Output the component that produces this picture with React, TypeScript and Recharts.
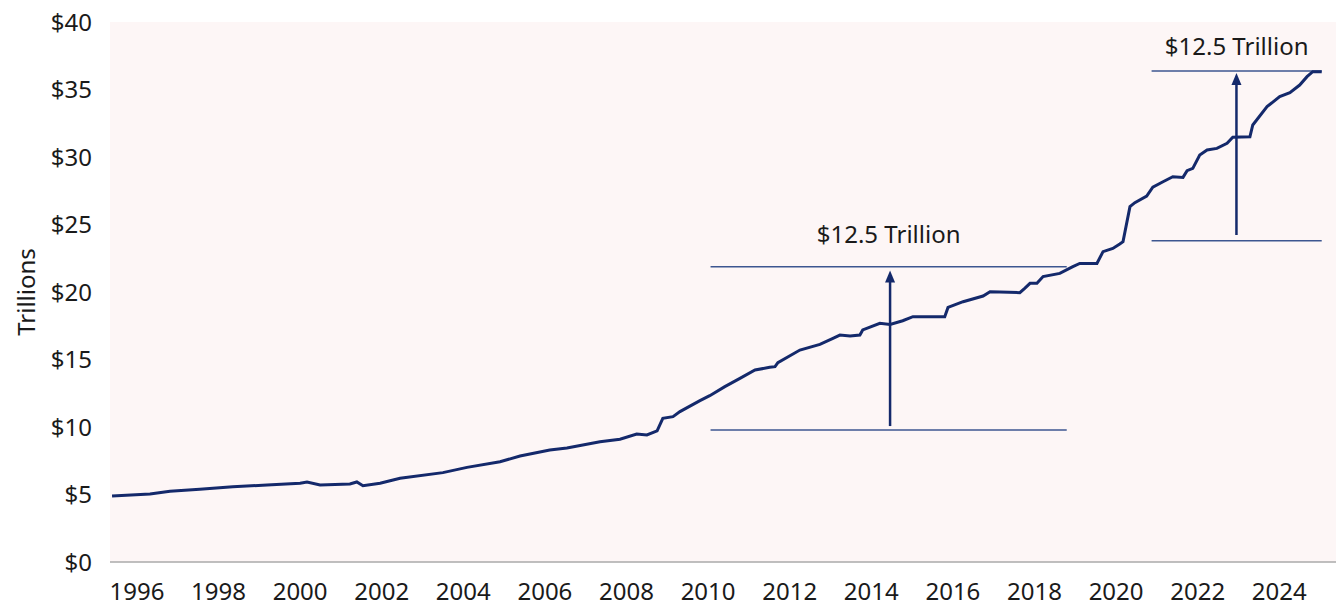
import React from 'react';
import {
  LineChart,
  Line,
  XAxis,
  YAxis,
  CartesianGrid,
  ReferenceLine,
} from 'recharts';

// decimal years and debt outstanding, in trillions of dollars
const years = [
  1995.39, 1996.32, 1996.81, 1997.54, 1998.35, 1999.19, 2000.0, 2000.17, 2000.49, 2001.22,
  2001.39, 2001.54, 2001.96, 2002.45, 2003.5, 2004.09, 2004.9, 2005.39, 2006.12, 2006.54,
  2007.35, 2007.84, 2008.25, 2008.5, 2008.75, 2008.89, 2009.14, 2009.31, 2009.8, 2010.04,
  2010.41, 2010.78, 2011.15, 2011.51, 2011.64, 2011.71, 2012.25, 2012.74, 2013.06, 2013.23,
  2013.48, 2013.72, 2013.79, 2014.21, 2014.46, 2014.77, 2015.02, 2015.8, 2015.88, 2016.25,
  2016.74, 2016.91, 2017.15, 2017.64, 2017.76, 2017.89, 2018.06, 2018.21, 2018.62, 2018.94,
  2019.11, 2019.53, 2019.68, 2019.92, 2020.09, 2020.17, 2020.34, 2020.46, 2020.75, 2020.9,
  2021.15, 2021.39, 2021.64, 2021.74, 2021.88, 2022.05, 2022.23, 2022.47, 2022.72, 2022.86,
  2023.28, 2023.35, 2023.7, 2024.01, 2024.26, 2024.5, 2024.68, 2024.82, 2025.04,
];

const debt = [
  4.89, 5.04, 5.24, 5.38, 5.58, 5.7, 5.83, 5.93, 5.7, 5.78,
  5.93, 5.65, 5.83, 6.2, 6.62, 7.01, 7.43, 7.85, 8.3, 8.44,
  8.91, 9.09, 9.48, 9.41, 9.72, 10.64, 10.77, 11.14, 11.95, 12.32,
  12.99, 13.6, 14.22, 14.42, 14.47, 14.77, 15.7, 16.12, 16.57, 16.81,
  16.74, 16.81, 17.19, 17.68, 17.6, 17.87, 18.17, 18.17, 18.86, 19.28,
  19.7, 20.02, 20.0, 19.95, 20.27, 20.64, 20.64, 21.14, 21.38, 21.88,
  22.12, 22.12, 22.99, 23.23, 23.56, 23.73, 26.32, 26.62, 27.11, 27.76,
  28.17, 28.54, 28.49, 28.99, 29.16, 30.15, 30.52, 30.64, 31.01, 31.46,
  31.5, 32.37, 33.73, 34.47, 34.77, 35.33, 35.95, 36.32, 36.32,
];

const xTicks = [1996, 1998, 2000, 2002, 2004, 2006, 2008, 2010, 2012, 2014, 2016, 2018, 2020, 2022, 2024];
const yTicks = [0, 5, 10, 15, 20, 25, 30, 35, 40];

// bracket annotations: span of the bracket lines, bottom/top levels, arrow position
const bracketStart = [2010.06, 2020.87];
const bracketEnd = [2018.79, 2025.04];
const bracketLow = [9.78, 23.8];
const bracketHigh = [21.87, 36.37];
const arrowX = [2014.46, 2022.95];
const arrowFrom = [10.07, 24.22];
const arrowTo = [21.6, 36.22];
const bracketLabels = ['$12.5 Trillion', '$12.5 Trillion'];
const labelOffsets = [24, 16];

const data = years.map((year, i) => ({ year, debt: debt[i] }));

const NAVY = '#14296b';
const THIN = '#3d5690';
const FONT = '"Noto Sans", sans-serif';

// eslint-disable-next-line @typescript-eslint/no-explicit-any
const ArrowShape = (props: any) => {
  const { x1, y1, x2, y2 } = props;
  const head = 12;
  return (
    <g>
      <line x1={x1} y1={y1} x2={x2} y2={y2 + head - 2} stroke={NAVY} strokeWidth={2.5} />
      <polygon points={`${x2},${y2} ${x2 - 5},${y2 + head} ${x2 + 5},${y2 + head}`} fill={NAVY} />
    </g>
  );
};

// eslint-disable-next-line @typescript-eslint/no-explicit-any
const YLabel = (props: any) => {
  const vb = props.viewBox || {};
  const cy = (vb.y || 0) + (vb.height || 0) / 2;
  return (
    <text
      x={35}
      y={cy}
      transform={`rotate(-90, 35, ${cy})`}
      textAnchor="middle"
      fontFamily={FONT}
      fontSize={24}
      fill="#1a1a1a"
    >
      Trillions
    </text>
  );
};

export default function App() {
  return (
    <div style={{ position: 'absolute', left: 0, top: 0, background: '#fff' }}>
      <LineChart
        width={1336}
        height={611}
        data={data}
        margin={{ top: 22, right: 0, bottom: 0, left: 0 }}
      >
        <CartesianGrid horizontal={false} vertical={false} fill="#fdf6f6" />
        <XAxis
          dataKey="year"
          type="number"
          domain={[1995.34, 2025.39]}
          ticks={xTicks}
          height={49}
          tickSize={0}
          tickMargin={21}
          axisLine={{ stroke: '#aaaaaa', strokeWidth: 1.5 }}
          tick={{ fontFamily: FONT, fontSize: 24, fill: '#1a1a1a' }}
          allowDataOverflow
        />
        <YAxis
          type="number"
          domain={[0, 40]}
          ticks={yTicks}
          width={110}
          axisLine={false}
          tickLine={false}
          tickSize={0}
          tickMargin={18}
          tickFormatter={(v) => `$${v}`}
          tick={{ fontFamily: FONT, fontSize: 24, fill: '#1a1a1a' }}
          label={{ content: YLabel }}
        />
        {bracketStart.map((x0, i) => (
          <ReferenceLine
            key={`low-${i}`}
            segment={[
              { x: x0, y: bracketLow[i] },
              { x: bracketEnd[i], y: bracketLow[i] },
            ]}
            stroke={THIN}
            strokeWidth={1.5}
          />
        ))}
        {bracketStart.map((x0, i) => (
          <ReferenceLine
            key={`high-${i}`}
            segment={[
              { x: x0, y: bracketHigh[i] },
              { x: bracketEnd[i], y: bracketHigh[i] },
            ]}
            stroke={THIN}
            strokeWidth={1.5}
            label={{
              value: bracketLabels[i],
              position: 'top',
              offset: labelOffsets[i],
              fontFamily: FONT,
              fontSize: 24,
              fill: '#1a1a1a',
            }}
          />
        ))}
        {arrowX.map((ax, i) => (
          <ReferenceLine
            key={`arrow-${i}`}
            segment={[
              { x: ax, y: arrowFrom[i] },
              { x: ax, y: arrowTo[i] },
            ]}
            shape={ArrowShape}
          />
        ))}
        <Line
          type="linear"
          dataKey="debt"
          stroke={NAVY}
          strokeWidth={3}
          dot={false}
          isAnimationActive={false}
        />
      </LineChart>
    </div>
  );
}
